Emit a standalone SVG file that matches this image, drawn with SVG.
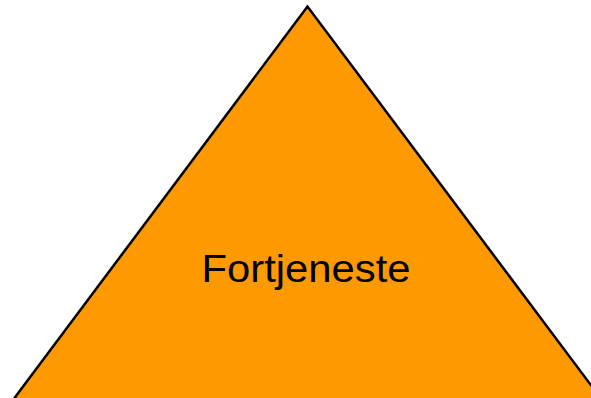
<svg xmlns="http://www.w3.org/2000/svg" width="591" height="398" viewBox="0 0 591 398">
<style>
.tri{fill:#ff9900;stroke:#000;stroke-width:2.5;stroke-linejoin:miter}
.lbl{font-family:"Liberation Sans",Arial,sans-serif;font-size:38px;fill:#000}
</style>
<rect width="591" height="398" fill="#fff"/>
<g id="triangle">
<polygon class="tri" points="307.5,6.5 4,412 611,412"/>
<text class="lbl" x="306" y="282" text-anchor="middle" textLength="209" lengthAdjust="spacingAndGlyphs">Fortjeneste</text>
</g>
</svg>
